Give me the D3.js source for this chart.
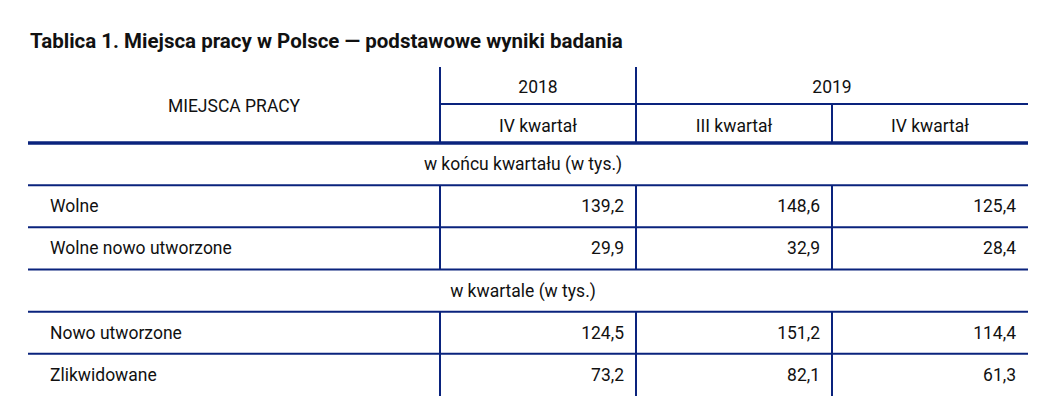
<!DOCTYPE html>
<html lang="pl">
<head>
<meta charset="UTF-8">
<title>Miejsca pracy w Polsce</title>
<script src="https://cdn.jsdelivr.net/npm/d3@7"></script>
<style>
  body { margin: 0; background: #fff; }
  text { font-family: Roboto, "Noto Sans", sans-serif; fill: #111; }
</style>
</head>
<body>
<script>
  // data
  var years = ["2018", "2019"];
  var quarters = ["IV kwartał", "III kwartał", "IV kwartał"];
  var sections = ["w końcu kwartału (w tys.)", "w kwartale (w tys.)"];
  var rowLabels = ["Wolne", "Wolne nowo utworzone", "Nowo utworzone", "Zlikwidowane"];
  var q4_2018 = [139.2, 29.9, 124.5, 73.2];
  var q3_2019 = [148.6, 32.9, 151.2, 82.1];
  var q4_2019 = [125.4, 28.4, 114.4, 61.3];

  var w = 1047, h = 420;
  var navy = "#0a237d";
  var fs = "17.5px";
  var fmt = function(v) { return d3.format(".1f")(v).replace(".", ","); };

  var svg = d3.select("body").append("svg").attr("width", w).attr("height", h);

  svg.append("text").attr("x", 30).attr("y", 48)
    .style("font-size", "20.5px").style("font-weight", "bold")
    .text("Tablica 1. Miejsca pracy w Polsce \u2014 podstawowe wyniki badania");

  var left = 28, right = 1028;
  var colX = [left, 440, 636, 832, right];

  // body rows: section, 2 rows, section, 2 rows
  var layout = [
    {type: "sec", i: 0}, {type: "row", i: 0}, {type: "row", i: 1},
    {type: "sec", i: 1}, {type: "row", i: 2}, {type: "row", i: 3}
  ];
  var y = d3.scaleBand().domain(d3.range(layout.length)).range([143, 396]);

  // header
  svg.append("text").attr("x", (left + 440) / 2).attr("y", 112)
    .attr("text-anchor", "middle").style("font-size", fs).text("MIEJSCA PRACY");
  svg.append("text").attr("x", (440 + 636) / 2).attr("y", 93)
    .attr("text-anchor", "middle").style("font-size", fs).text(years[0]);
  svg.append("text").attr("x", (636 + right) / 2).attr("y", 93)
    .attr("text-anchor", "middle").style("font-size", fs).text(years[1]);
  quarters.forEach(function(q, i) {
    svg.append("text").attr("x", (colX[i + 1] + colX[i + 2]) / 2).attr("y", 132)
      .attr("text-anchor", "middle").style("font-size", fs).text(q);
  });

  var cols = [q4_2018, q3_2019, q4_2019];
  layout.forEach(function(d, k) {
    var yc = y(k) + y.bandwidth() / 2 + 6;
    if (d.type === "sec") {
      svg.append("text").attr("x", (left + right) / 2 - 5).attr("y", yc)
        .attr("text-anchor", "middle").style("font-size", fs).text(sections[d.i]);
    } else {
      svg.append("text").attr("x", 50).attr("y", yc).style("font-size", fs).text(rowLabels[d.i]);
      cols.forEach(function(c, j) {
        svg.append("text").attr("x", colX[j + 2] - 12).attr("y", yc)
          .attr("text-anchor", "end").style("font-size", fs).text(fmt(c[d.i]));
      });
      // vertical separators
      [440, 636, 832].forEach(function(x) {
        svg.append("line").attr("x1", x).attr("x2", x)
          .attr("y1", y(k)).attr("y2", y(k) + y.bandwidth())
          .attr("stroke", navy).attr("stroke-width", 2);
      });
    }
    if (k < layout.length - 1) {
      svg.append("line").attr("x1", left).attr("x2", right)
        .attr("y1", y(k) + y.bandwidth()).attr("y2", y(k) + y.bandwidth())
        .attr("stroke", navy).attr("stroke-width", 2);
    }
  });

  // header lines
  [440, 636].forEach(function(x) {
    svg.append("line").attr("x1", x).attr("x2", x).attr("y1", 67).attr("y2", 143)
      .attr("stroke", navy).attr("stroke-width", 2);
  });
  svg.append("line").attr("x1", 832).attr("x2", 832).attr("y1", 104).attr("y2", 143)
    .attr("stroke", navy).attr("stroke-width", 2);
  svg.append("line").attr("x1", 440).attr("x2", right).attr("y1", 104).attr("y2", 104)
    .attr("stroke", navy).attr("stroke-width", 2);
  svg.append("line").attr("x1", left).attr("x2", right).attr("y1", 143).attr("y2", 143)
    .attr("stroke", navy).attr("stroke-width", 3.5);
</script>
</body>
</html>
